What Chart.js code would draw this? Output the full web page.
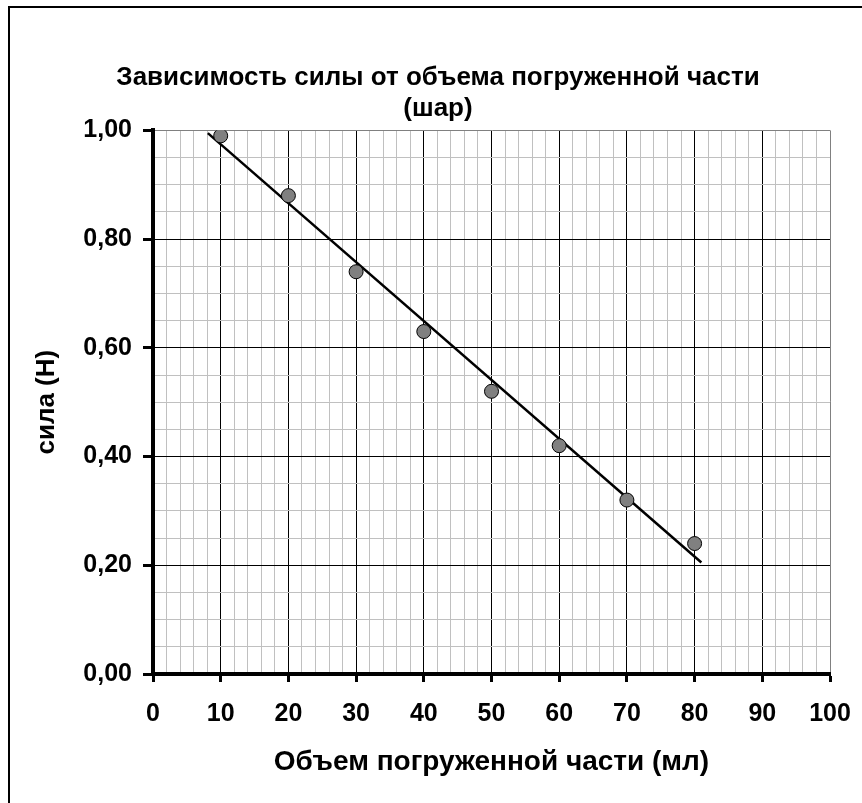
<!DOCTYPE html>
<html>
<head>
<meta charset="utf-8">
<script src="https://cdn.jsdelivr.net/npm/chart.js@4"></script>
<style>
  body { margin: 0; background: #fff; }
  canvas { display: block; }
</style>
</head>
<body>
<canvas id="forceChart" width="862" height="803"></canvas>
<script>
// Measured points (volume in ml, force in N)
const volumes = [10, 20, 30, 40, 50, 60, 70, 80];
const forces = [0.99, 0.88, 0.74, 0.63, 0.52, 0.42, 0.32, 0.24];

// Trend line end points
const trendX = [8.1, 81];
const trendY = [0.995, 0.205];

const chartTitle = ['Зависимость силы от объема погруженной части', '(шар)'];
const xTitle = 'Объем погруженной части (мл)';
const yTitle = 'сила (Н)';

const FONT = "'Liberation Sans', Arial, sans-serif";

const isMajorX = v => Math.round(v) % 10 === 0;
const isMajorY = v => Math.round(v * 100) % 20 === 0;

// White page + frame lines at the top and left edge
const framePlugin = {
    id: 'frame',
    beforeDraw(chart) {
        const { ctx } = chart;
        ctx.save();
        ctx.fillStyle = '#fff';
        ctx.fillRect(0, 0, chart.width, chart.height);
        ctx.strokeStyle = '#000';
        ctx.lineWidth = 2;
        ctx.beginPath();
        ctx.moveTo(9, chart.height);
        ctx.lineTo(9, 7);
        ctx.lineTo(chart.width, 7);
        ctx.stroke();
        ctx.restore();
    }
};

const ctx = document.getElementById('forceChart').getContext('2d');
new Chart(ctx, {
    type: 'scatter',
    data: {
        datasets: [{
            label: 'сила',
            data: volumes.map((v, i) => ({ x: v, y: forces[i] })),
            backgroundColor: '#808080',
            borderColor: '#000',
            borderWidth: 1,
            pointRadius: 7,
            order: 1
        }, {
            label: 'тренд',
            data: trendX.map((v, i) => ({ x: v, y: trendY[i] })),
            showLine: true,
            borderColor: '#000',
            borderWidth: 2.5,
            pointRadius: 0,
            order: 2
        }]
    },
    options: {
        responsive: false,
        animation: false,
        layout: { padding: { left: 46, top: 0, right: 32, bottom: 0 } },
        plugins: {
            legend: { display: false },
            tooltip: { enabled: false },
            title: {
                display: true,
                text: chartTitle,
                color: '#000',
                font: { family: FONT, size: 26, weight: 'bold', lineHeight: 1.2 },
                padding: { top: 62, bottom: 6 }
            }
        },
        scales: {
            x: {
                type: 'linear',
                min: 0,
                max: 100,
                afterFit: scale => {
                    scale.height = 129;
                    scale.paddingLeft = 0;
                    scale.paddingRight = 0;
                },
                border: { color: '#000', width: 4 },
                grid: {
                    color: c => c.tick.value === 100 ? '#808080' : (isMajorX(c.tick.value) ? '#000' : '#c0c0c0'),
                    lineWidth: 1,
                    tickLength: 8,
                    tickColor: c => isMajorX(c.tick.value) ? '#000' : 'rgba(0,0,0,0)',
                    tickWidth: 3
                },
                ticks: {
                    stepSize: 2,
                    autoSkip: false,
                    maxRotation: 0,
                    padding: 17,
                    color: '#000',
                    font: { family: FONT, size: 25, weight: 'bold' },
                    callback: v => isMajorX(v) ? String(Math.round(v)) : ''
                },
                title: {
                    display: true,
                    text: xTitle,
                    color: '#000',
                    font: { family: FONT, size: 28, weight: 'bold', lineHeight: 1.2 },
                    padding: { top: 0, bottom: 24 }
                }
            },
            y: {
                type: 'linear',
                min: 0,
                max: 1,
                afterFit: scale => {
                    scale.width = 107;
                    scale.paddingTop = 0;
                    scale.paddingBottom = 0;
                },
                border: { color: '#000', width: 4 },
                grid: {
                    color: c => c.tick.value === 1 ? '#808080' : (isMajorY(c.tick.value) ? '#000' : '#c0c0c0'),
                    lineWidth: 1,
                    tickLength: 10,
                    tickColor: c => isMajorY(c.tick.value) ? '#000' : 'rgba(0,0,0,0)',
                    tickWidth: 3
                },
                ticks: {
                    stepSize: 0.05,
                    autoSkip: false,
                    padding: 11,
                    color: '#000',
                    font: { family: FONT, size: 25, weight: 'bold' },
                    callback: v => isMajorY(v) ? v.toFixed(2).replace('.', ',') : ''
                },
                title: {
                    display: true,
                    text: yTitle,
                    color: '#000',
                    font: { family: FONT, size: 26, weight: 'bold', lineHeight: 1.2 },
                    padding: { top: -14.6, bottom: 0 }
                }
            }
        }
    },
    plugins: [framePlugin]
});
</script>
</body>
</html>
